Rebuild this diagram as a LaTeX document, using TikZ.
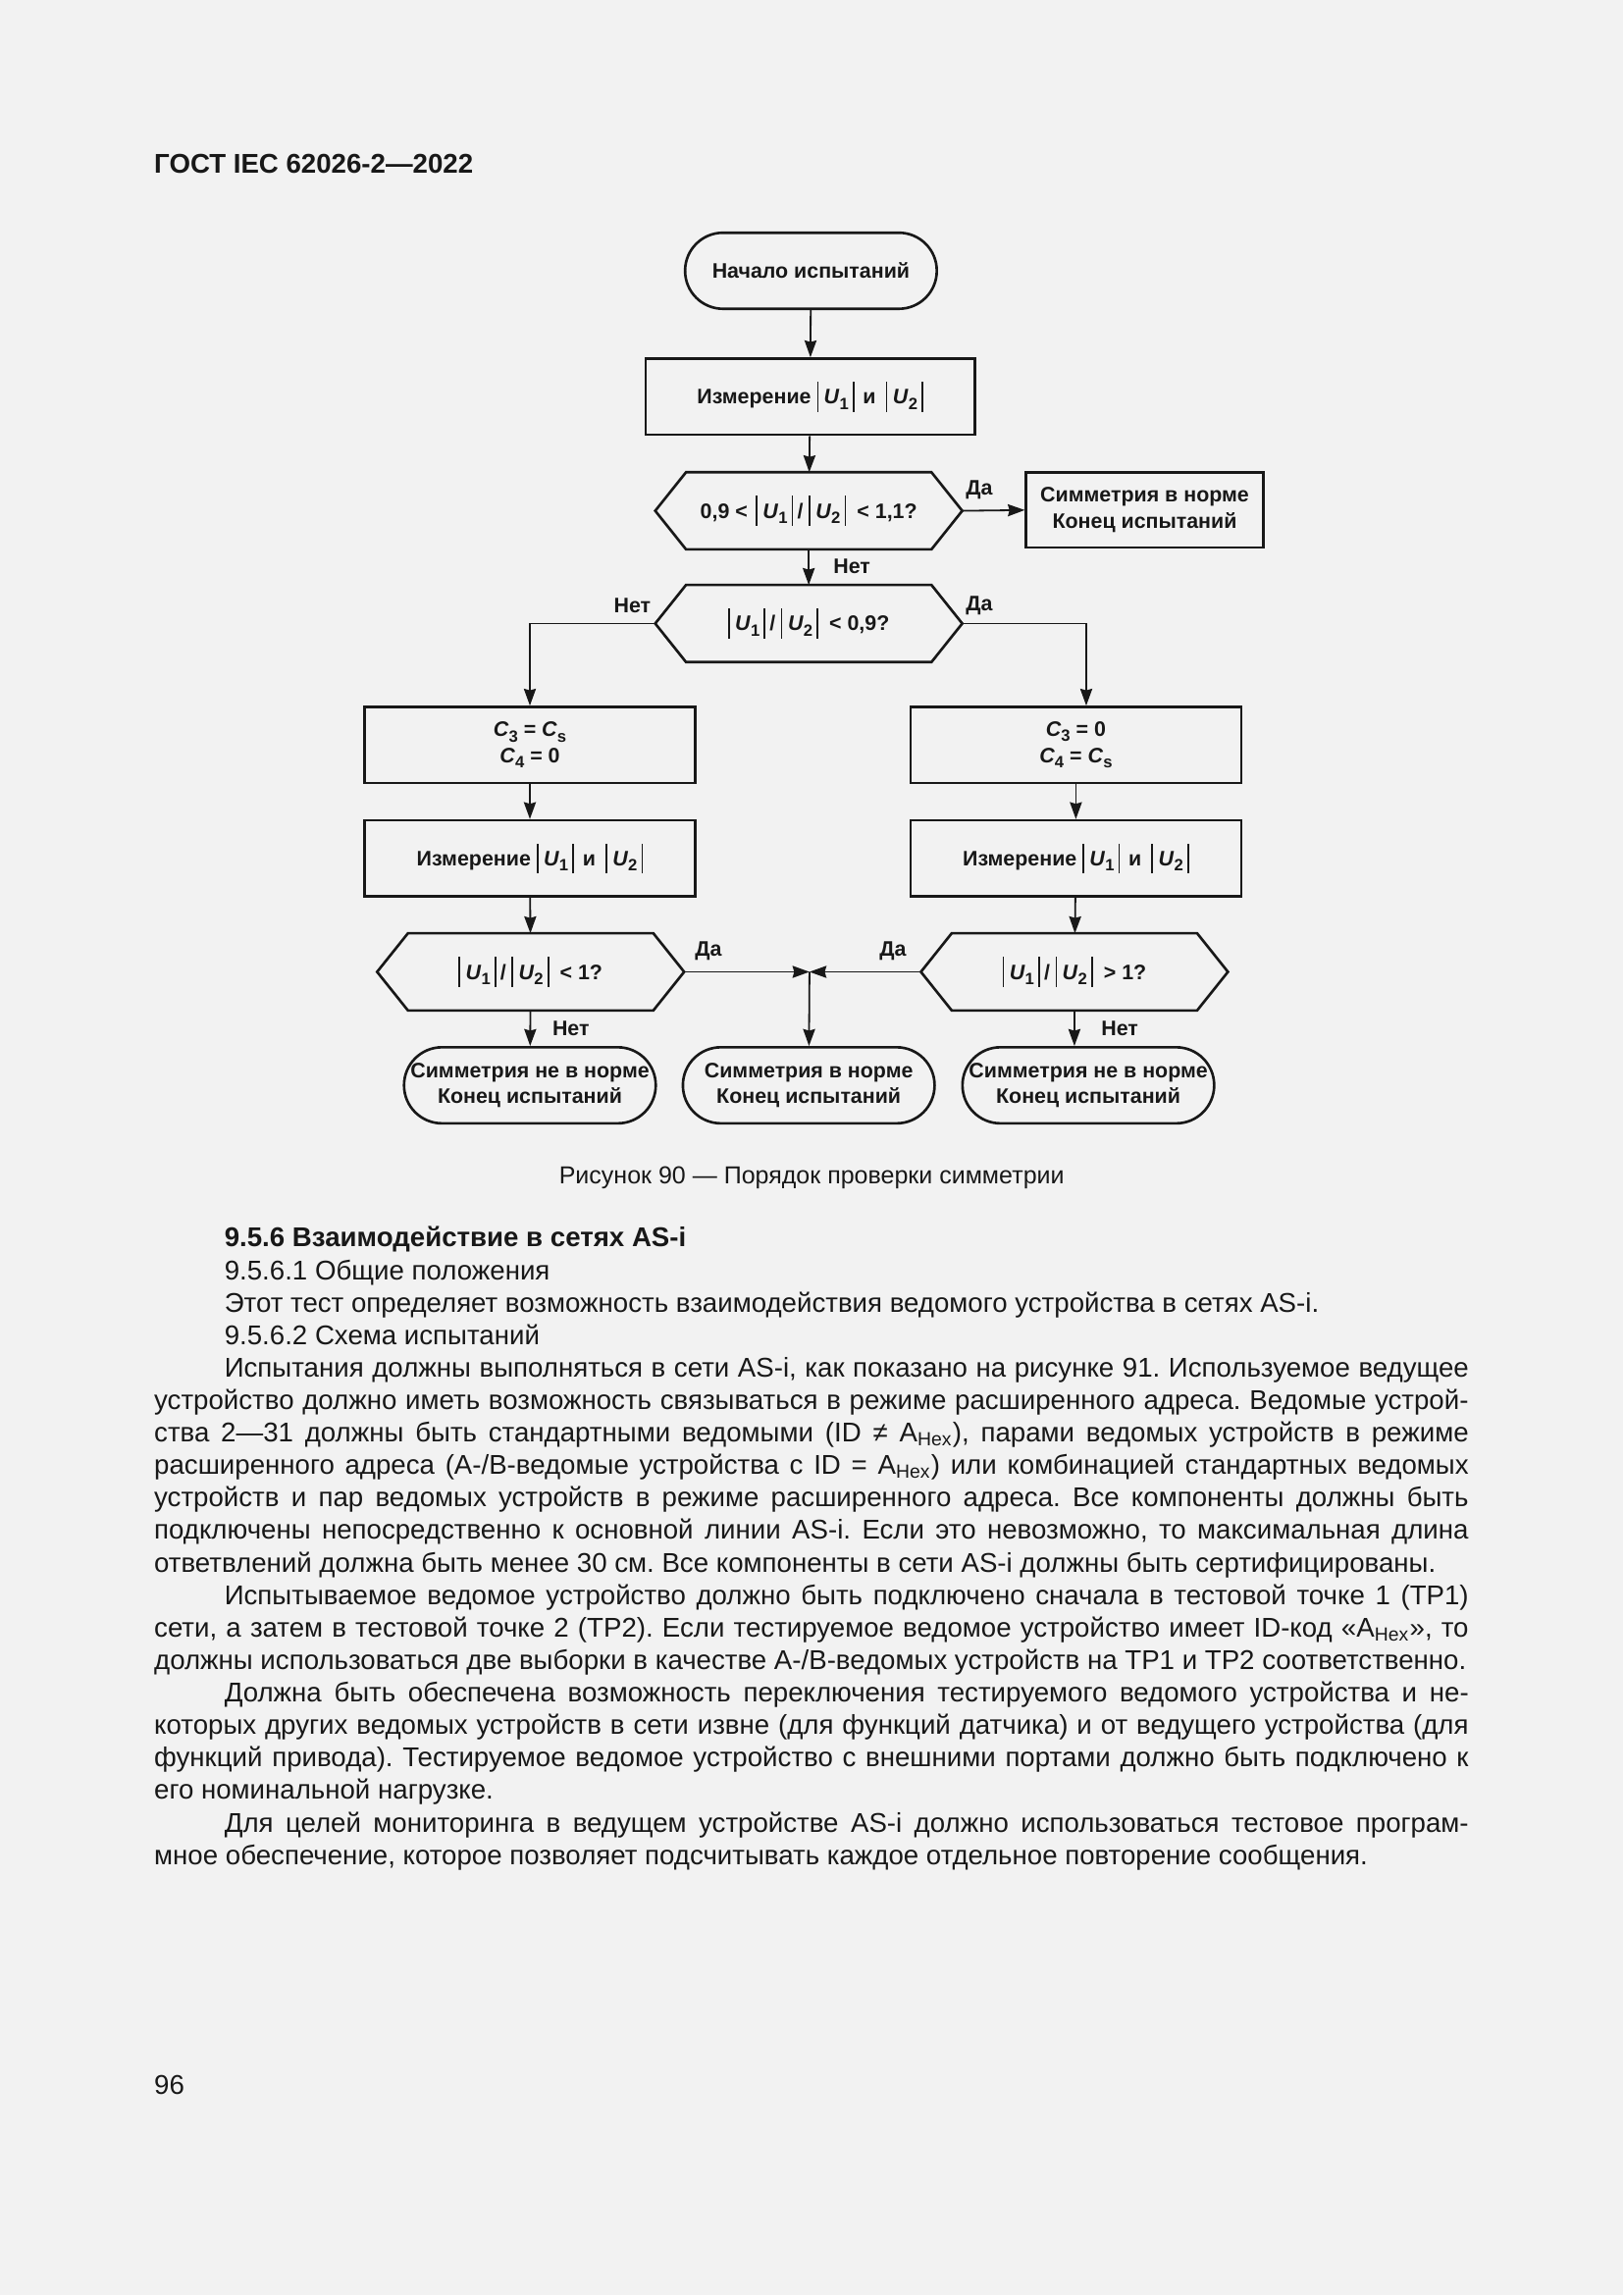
\documentclass[tikz,border=0pt]{standalone}
\usepackage{fontspec}
\setmainfont{Liberation Sans}
\usepackage{tikz}
\usetikzlibrary{calc,arrows.meta,positioning}
\frenchspacing
\definecolor{pagebg}{RGB}{242,242,242}
\definecolor{ink}{RGB}{24,24,24}
\newcommand{\bv}{\rule[-2.8pt]{0.6pt}{11pt}}
\newcommand{\sub}[1]{\raisebox{-1.9pt}{\fontsize{6}{6}\selectfont #1}}
\newcommand{\absU}[1]{\bv\hspace{2pt}\textit{U}\sub{#1}\hspace{1.5pt}\bv}
\newcommand{\txt}{\fontsize{9.95}{12}\selectfont}
\tikzset{
  chart/.style={font=\bfseries\fontsize{7.7}{9.6}\selectfont,text=ink},
  box/.style={chart,draw=ink,line width=0.95pt,minimum width=121.3pt,minimum height=27.9pt,align=center,inner sep=1pt},
  term/.style={box,rounded corners=13.9pt,minimum width=92.3pt},
  hexbox/.style={chart,minimum width=112.2pt,minimum height=27.9pt,align=center,inner sep=1pt},
  flow/.style={draw=ink,line width=0.65pt,-{Stealth[length=6.2pt,width=4.4pt,inset=0.6pt]}},
  lbl/.style={chart,inner sep=0pt},
  line/.style={anchor=base west,inner sep=0pt,text=ink,font=\txt}
}
\begin{document}
\begin{tikzpicture}[x=0.5368pt,y=-0.5368pt]
  \fill[pagebg] (0,0) rectangle (1109,1568);
  \useasboundingbox (0,0) rectangle (1109,1568);
  \node[line,font=\bfseries\txt] (head) at (105,118.5) {ГОСТ IEC 62026-2—2022};

  % flowchart
  \node[term] (start) at (554,185) {Начало испытаний};
  \node[box,minimum width=120.8pt] (meas0) at (553.5,271) {Измерение \absU{1} \hspace{1pt}и\hspace{1.5pt} \absU{2}};
  \node[hexbox] (hexA) at (552.5,349) {0,9 <\hspace{3pt}\absU{1}\hspace{1.5pt}/\hspace{2pt}\absU{2}\hspace{4pt}< 1,1?};
  \node[box,minimum width=87pt,minimum height=27.4pt] (okA) at (782,348.5) {Симметрия в норме\\Конец испытаний};
  \node[hexbox] (hexB) at (552.5,426) {\absU{1}\hspace{1.5pt}/\hspace{2pt}\absU{2}\hspace{4pt}< 0,9?};
  \node[box] (setL) at (362,509) {\textit{C}\sub{3} = \textit{C}\sub{s}\\\textit{C}\sub{4} = 0};
  \node[box] (setR) at (735,509) {\textit{C}\sub{3} = 0\\\textit{C}\sub{4} = \textit{C}\sub{s}};
  \node[box] (measL) at (362,586.5) {Измерение \absU{1} \hspace{1pt}и\hspace{1.5pt} \absU{2}};
  \node[box] (measR) at (735,586.5) {Измерение \absU{1} \hspace{1pt}и\hspace{1.5pt} \absU{2}};
  \node[hexbox] (hexL) at (362.5,664) {\absU{1}\hspace{1.5pt}/\hspace{2pt}\absU{2}\hspace{4pt}< 1?};
  \node[hexbox] (hexR) at (734,664) {\absU{1}\hspace{1.5pt}/\hspace{2pt}\absU{2}\hspace{4pt}> 1?};
  \node[term] (endL) at (362,741.5) {Симметрия не в норме\\Конец испытаний};
  \node[term] (endM) at (552.5,741.5) {Симметрия в норме\\Конец испытаний};
  \node[term] (endR) at (743.5,741.5) {Симметрия не в норме\\Конец испытаний};
  \coordinate (jn) at (553,664);
  \foreach \h in {hexA,hexB,hexL,hexR}
    \draw[ink,line width=0.95pt] (\h.west) -- ($(\h.north west)+(11.3pt,0pt)$)
      -- ($(\h.north east)+(-11.3pt,0pt)$) -- (\h.east)
      -- ($(\h.south east)+(-11.3pt,0pt)$) -- ($(\h.south west)+(11.3pt,0pt)$) -- cycle;

  \draw[flow] (start) -- (meas0);
  \draw[flow] (meas0) -- (hexA);
  \draw[flow] (hexA.east) -- (okA.west);
  \draw[flow] (hexA) -- (hexB);
  \draw[flow] (hexB.west) -| (setL.north);
  \draw[flow] (hexB.east) -| ($(setR.north)+(3.8pt,0pt)$);
  \draw[flow] (setL) -- (measL);
  \draw[flow] (measL) -- (hexL);
  \draw[flow] (setR) -- (measR);
  \draw[flow] (measR) -- (hexR);
  \draw[flow] (hexL.east) -- (jn);
  \draw[flow] (hexR.west) -- (jn);
  \draw[flow] (jn) -- (endM);
  \draw[flow] (hexL) -- (endL);
  \draw[flow] (hexR.south) -- (hexR.south |- endR.north);

  \node[lbl] (yesA) at (669,335) {Да};
  \node[lbl] (noA) at (582,387) {Нет};
  \node[lbl] (noB) at (432,414) {Нет};
  \node[lbl] (yesB) at (669,414) {Да};
  \node[lbl] (yesL) at (484,650) {Да};
  \node[lbl] (yesR) at (610,650) {Да};
  \node[lbl] (noL) at (390,703) {Нет};
  \node[lbl] (noR) at (765,703) {Нет};

  \node[anchor=base,inner sep=0pt,text=ink,font=\fontsize{9}{11}\selectfont] (cap) at (554.5,808.5) {Рисунок 90 — Порядок проверки симметрии};

  % text below the figure
  \node[line,font=\bfseries\txt] (t1) at (153,852) {9.5.6 Взаимодействие в сетях AS-i};
  \node[line] (t2) at (153,874.2) {9.5.6.1 Общие положения};
  \node[line] (t3) at (153,896.4) {Этот тест определяет возможность взаимодействия ведомого устройства в сетях AS-i.};
  \node[line] (t4) at (153,918.6) {9.5.6.2 Схема испытаний};
  \node[line] (t5) at (153,940.8) {\makebox[456.3pt][s]{Испытания должны выполняться в сети AS-i, как показано на рисунке 91. Используемое ведущее}};
  \node[line] (t6) at (105,963) {\makebox[482pt][s]{устройство должно иметь возможность связываться в режиме расширенного адреса. Ведомые устрой-}};
  \node[line] (t7) at (105,985.2) {\makebox[482pt][s]{ства 2—31 должны быть стандартными ведомыми (ID ≠ A\textsubscript{Hex}), парами ведомых устройств в режиме}};
  \node[line] (t8) at (105,1007.4) {\makebox[482pt][s]{расширенного адреса (A-/B-ведомые устройства с ID = A\textsubscript{Hex}) или комбинацией стандартных ведомых}};
  \node[line] (t9) at (105,1029.6) {\makebox[482pt][s]{устройств и пар ведомых устройств в режиме расширенного адреса. Все компоненты должны быть}};
  \node[line] (t10) at (105,1051.8) {\makebox[482pt][s]{подключены непосредственно к основной линии AS-i. Если это невозможно, то максимальная длина}};
  \node[line] (t11) at (105,1074) {ответвлений должна быть менее 30 см. Все компоненты в сети AS-i должны быть сертифицированы.};
  \node[line] (t12) at (153,1096.2) {\makebox[456.3pt][s]{Испытываемое ведомое устройство должно быть подключено сначала в тестовой точке 1 (TP1)}};
  \node[line] (t13) at (105,1118.4) {\makebox[482pt][s]{сети, а затем в тестовой точке 2 (TP2). Если тестируемое ведомое устройство имеет ID-код «A\textsubscript{Hex}», то}};
  \node[line] (t14) at (105,1140.6) {должны использоваться две выборки в качестве A-/B-ведомых устройств на TP1 и TP2 соответственно.};
  \node[line] (t15) at (153,1162.8) {\makebox[456.3pt][s]{Должна быть обеспечена возможность переключения тестируемого ведомого устройства и не-}};
  \node[line] (t16) at (105,1185) {\makebox[482pt][s]{которых других ведомых устройств в сети извне (для функций датчика) и от ведущего устройства (для}};
  \node[line] (t17) at (105,1207.2) {\makebox[482pt][s]{функций привода). Тестируемое ведомое устройство с внешними портами должно быть подключено к}};
  \node[line] (t18) at (105,1229.4) {его номинальной нагрузке.};
  \node[line] (t19) at (153,1251.6) {\makebox[456.3pt][s]{Для целей мониторинга в ведущем устройстве AS-i должно использоваться тестовое програм-}};
  \node[line] (t20) at (105,1273.8) {мное обеспечение, которое позволяет подсчитывать каждое отдельное повторение сообщения.};

  \node[line] (page) at (105,1431) {96};
\end{tikzpicture}
\end{document}
